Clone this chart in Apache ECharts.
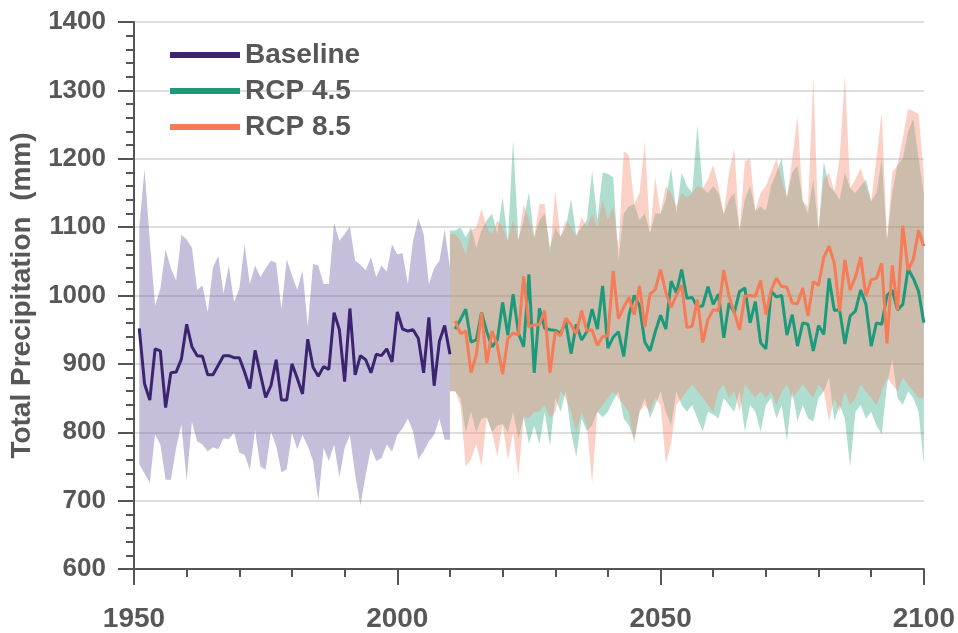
<!DOCTYPE html>
<html>
<head>
<meta charset="utf-8">
<script src="https://cdn.jsdelivr.net/npm/echarts@6/dist/echarts.min.js"></script>
<style>
html,body{margin:0;padding:0;background:#fff;}
#chart{width:958px;height:633px;}
</style>
</head>
<body>
<div id="chart"></div>
<script>
// ---- data ----
const baselineStartYear = 1951;
const baseline = [
  952,871,847,922,919,836,887,888,907,958,
  925,912,911,884,884,898,912,912,909,909,
  888,864,920,885,851,868,906,847,847,900,
  879,856,936,895,882,896,892,975,950,874,
  981,884,912,906,887,914,912,922,903,976,
  951,948,950,937,887,968,868,933,956,914
];
const baselineUpper = [
  1100,1185,1080,985,1010,1068,1040,1022,1089,1082,
  1070,1008,1015,975,1041,1058,1003,1044,990,1010,
  1075,1017,1044,1027,1040,1051,1048,979,1053,1030,
  1008,1037,955,1046,1044,1017,1017,1106,1080,1090,
  1101,1051,1045,1037,1056,1027,1044,1035,1075,1060,
  1062,1017,1080,1113,1090,1017,1040,1051,1097,1040
];
const baselineLower = [
  753,740,726,797,782,731,730,777,811,729,
  815,787,782,772,778,775,791,790,799,770,
  767,745,803,750,745,801,780,741,746,799,
  775,796,780,758,700,777,758,782,734,777,
  796,738,693,738,777,758,762,782,772,796,
  806,820,801,760,772,787,796,820,789,789
];

const rcpStartYear = 2011;
const rcp45 = [
  951,965,980,932,935,975,947,925,935,990,
  942,1002,945,925,1031,887,981,952,950,949,
  945,961,915,958,935,947,980,951,1014,923,
  939,947,911,971,1000,985,932,919,947,971,
  951,1021,1004,1038,996,997,983,985,1013,987,
  1002,938,989,975,1006,1011,960,991,931,922,
  1006,998,1000,942,972,926,960,958,919,956,
  943,1025,978,979,929,970,977,1008,987,926,
  960,958,1000,1008,979,987,1039,1025,1006,960
];
const rcp85 = [
  963,944,948,887,913,975,901,948,927,885,
  937,945,942,1028,954,957,958,978,887,947,
  941,967,957,944,978,948,950,927,940,941,
  1036,966,983,997,972,1014,954,1002,1009,1038,
  1004,983,1000,1015,953,955,994,931,965,979,
  978,1037,999,975,950,999,1000,999,1022,972,
  1008,1025,1013,1012,989,988,1011,970,1020,1015,
  1056,1072,1047,977,1052,1008,1027,1056,999,1023,
  1025,1047,930,1044,979,1102,1037,1053,1095,1072
];

const bandStartYear = 2010;
const rcp45Upper = [1095,
  1095,1100,1085,1100,1070,1095,1110,1120,1090,1144,
  1080,1228,1082,1110,1151,1085,1110,1120,1070,1100,
  1086,1100,1141,1088,1100,1110,1182,1110,1180,1178,
  1173,1052,1120,1130,1134,1110,1120,1091,1120,1120,
  1140,1187,1120,1180,1160,1150,1249,1157,1150,1160,
  1150,1119,1140,1150,1095,1140,1160,1124,1130,1124,
  1160,1180,1200,1143,1180,1190,1138,1120,1170,1095,
  1196,1160,1152,1140,1180,1157,1150,1160,1170,1138,
  1150,1200,1080,1150,1191,1200,1240,1258,1200,1150
];
const rcp45Lower = [860,
  860,850,800,830,800,820,822,800,810,812,
  800,830,790,822,783,810,783,830,780,850,
  830,860,800,764,820,802,810,830,822,830,
  846,860,820,810,790,830,850,820,840,860,
  830,810,860,840,830,840,820,801,830,826,
  820,850,840,830,860,801,840,830,801,840,
  850,820,840,787,860,816,840,820,816,850,
  860,880,816,840,820,749,830,840,820,830,
  810,797,870,907,850,840,860,850,830,753
];
const rcp85Upper = [1090,
  1090,1080,1060,1095,1100,1127,1100,1090,1110,1100,
  1080,1110,1081,1134,1110,1086,1134,1134,1060,1153,
  1086,1110,1100,1085,1115,1100,1120,1100,1140,1110,
  1130,1070,1211,1205,1134,1150,1225,1091,1173,1120,
  1160,1150,1130,1150,1143,1150,1160,1157,1170,1191,
  1160,1119,1180,1215,1095,1196,1200,1124,1150,1160,
  1180,1200,1170,1143,1200,1263,1138,1130,1320,1095,
  1170,1180,1152,1200,1323,1157,1170,1186,1160,1138,
  1200,1268,1080,1180,1191,1230,1273,1270,1265,1176
];
const rcp85Lower = [860,
  860,840,750,760,783,750,822,800,764,812,
  759,800,735,822,820,830,830,840,820,830,
  860,850,830,800,830,810,725,830,840,850,
  860,850,840,830,783,830,840,830,850,840,
  754,783,840,850,860,870,860,850,840,830,
  860,870,850,860,830,870,860,850,860,850,
  860,840,860,870,850,860,870,860,850,870,
  860,816,850,830,860,840,850,870,860,850,
  840,860,880,870,860,880,870,860,850,850
];

const seriesNames = ['Baseline', 'RCP 4.5', 'RCP 8.5'];
const yAxisTitle = 'Total Precipitation  (mm)';
const xTicks = { min: 1950, max: 2100, step: 50 };
const yTicks = { min: 600, max: 1400, step: 100 };

// ---- helpers ----
function pairs(y0, arr) { return arr.map((v, i) => [y0 + i, v]); }

const textColor = '#575757';
const fontFamily = 'Liberation Sans, Arial, sans-serif';
const colors = {
  base: '#3d2470', rcp45: '#1b9a7c', rcp85: '#f67b57',
  baseBand: 'rgba(112,94,168,0.40)',
  band45: 'rgba(27,158,119,0.35)',
  band85: 'rgba(245,140,115,0.40)'
};

function bandSeries(name, y0, up, lo, color) {
  const rows = up.map((v, i) => [y0 + i, lo[i], v]);
  return {
    type: 'custom', name: name, silent: true, z: 1,
    data: rows,
    encode: { x: 0, y: [1, 2] },
    renderItem: function (params, api) {
      if (params.dataIndex !== 0) return null;
      const pts = [];
      for (let i = 0; i < rows.length; i++) pts.push(api.coord([rows[i][0], rows[i][2]]));
      for (let i = rows.length - 1; i >= 0; i--) pts.push(api.coord([rows[i][0], rows[i][1]]));
      return { type: 'polygon', shape: { points: pts }, style: { fill: color, stroke: null } };
    }
  };
}
function lineSeries(name, y0, arr, color) {
  return { type: 'line', name: name, data: pairs(y0, arr), symbol: 'none', showSymbol: false,
    color: color, lineStyle: { width: 3, color: color }, itemStyle: { color: color }, z: 5 };
}

const chart = echarts.init(document.getElementById('chart'), null, { renderer: 'canvas' });
chart.setOption({
  animation: false,
  backgroundColor: '#fff',
  grid: { left: 134, right: 32, top: 22, bottom: 56, containLabel: false },
  legend: {
    data: seriesNames,
    orient: 'vertical',
    left: 165, top: 36,
    icon: 'rect', itemWidth: 70, itemHeight: 6, itemGap: 8,
    textStyle: { color: textColor, fontSize: 28, fontWeight: 'bold', fontFamily: fontFamily, lineHeight: 28 }
  },
  xAxis: {
    type: 'value', min: xTicks.min, max: xTicks.max, interval: xTicks.step,
    axisLine: { show: true, lineStyle: { color: '#555', width: 2 } },
    axisTick: { show: true, length: 16, lineStyle: { color: '#555', width: 2 } },
    minorTick: { show: true, splitNumber: 5, length: 8, lineStyle: { color: '#555', width: 2 } },
    splitLine: { show: false },
    axisLabel: { color: textColor, fontSize: 28, fontWeight: 'bold', fontFamily: fontFamily, margin: 36,
      formatter: function (v) { return String(v); } }
  },
  yAxis: {
    type: 'value', min: yTicks.min, max: yTicks.max, interval: yTicks.step,
    name: yAxisTitle, nameLocation: 'middle', nameGap: 98,
    nameTextStyle: { color: textColor, fontSize: 28, fontWeight: 'bold', fontFamily: fontFamily },
    axisLine: { show: true, lineStyle: { color: '#555', width: 2 } },
    axisTick: { show: true, length: 16, lineStyle: { color: '#555', width: 2 } },
    minorTick: { show: true, splitNumber: 5, length: 8, lineStyle: { color: '#555', width: 2 } },
    splitLine: { show: true, lineStyle: { color: '#dedede', width: 2 } },
    axisLabel: { color: textColor, fontSize: 26, fontWeight: 'bold', fontFamily: fontFamily, margin: 28,
      formatter: function (v) { return String(v); } }
  },
  series: [
    bandSeries('bandBase', baselineStartYear, baselineUpper, baselineLower, colors.baseBand),
    bandSeries('band45', bandStartYear, rcp45Upper, rcp45Lower, colors.band45),
    bandSeries('band85', bandStartYear, rcp85Upper, rcp85Lower, colors.band85),
    lineSeries(seriesNames[0], baselineStartYear, baseline, colors.base),
    lineSeries(seriesNames[1], rcpStartYear, rcp45, colors.rcp45),
    lineSeries(seriesNames[2], rcpStartYear, rcp85, colors.rcp85)
  ]
});
</script>
</body>
</html>
